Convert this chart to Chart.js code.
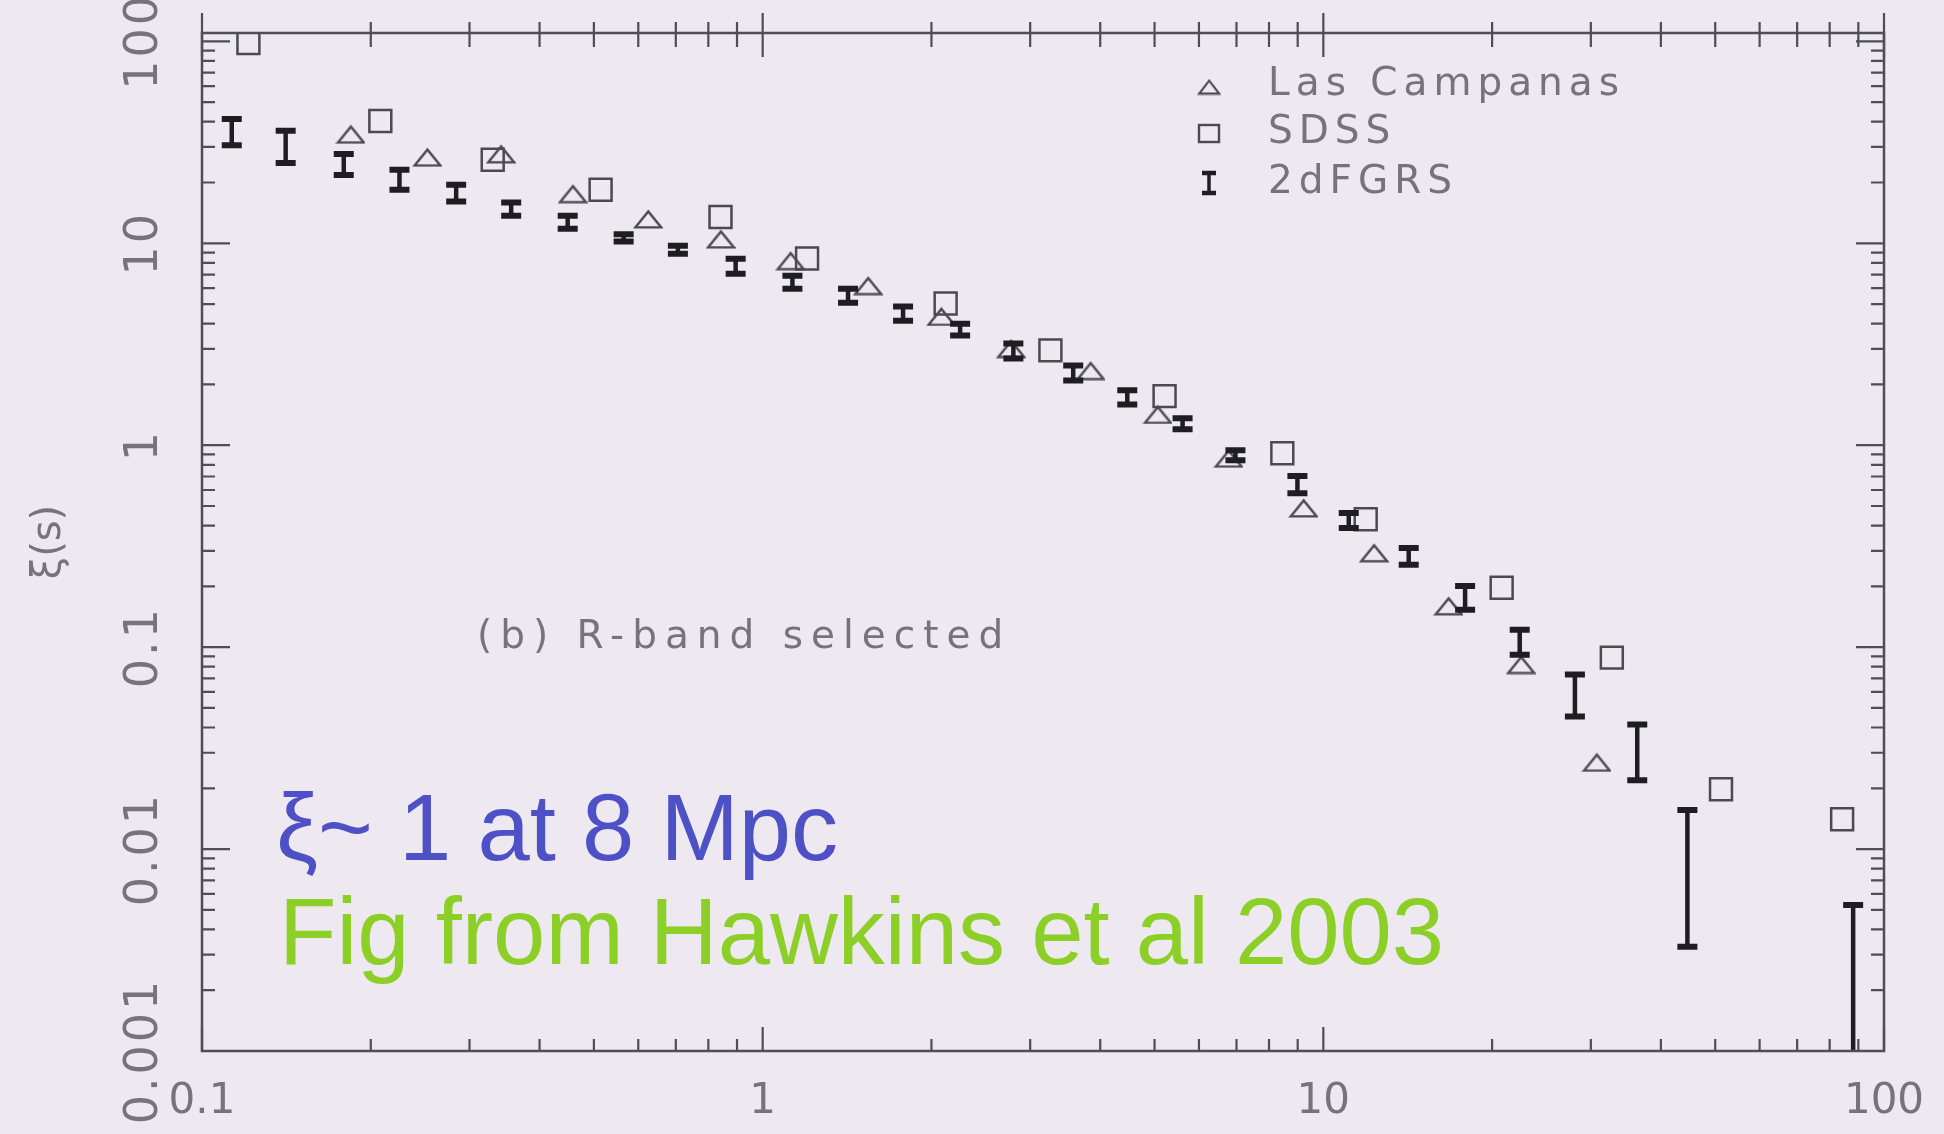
<!DOCTYPE html>
<html>
<head>
<meta charset="utf-8">
<title>xi(s) - Hawkins et al 2003</title>
<script src="https://cdn.jsdelivr.net/npm/chart.js@4.4.1/dist/chart.umd.min.js"></script>
<style>
  html, body { margin: 0; padding: 0; background: #eee8f1; }
  canvas { display: block; }
</style>
</head>
<body>
<canvas id="xiChart" width="1944" height="1134"></canvas>
<script>
// separation s (x) and correlation xi(s) (y)

// 2dFGRS: point plus error bar ends
const twodfX  = [0.113, 0.141, 0.179, 0.225, 0.284, 0.356, 0.449, 0.565, 0.706, 0.895, 1.13, 1.42, 1.78, 2.25, 2.80, 3.58, 4.47, 5.61, 6.97, 8.99, 11.1, 14.2, 17.9, 22.4, 28.1, 36.3, 44.6, 88.1];
const twodfY  = [35.5, 30.0, 24.7, 20.6, 17.8, 14.8, 12.8, 10.6, 9.29, 7.74, 6.45, 5.50, 4.48, 3.70, 2.95, 2.27, 1.75, 1.28, 0.903, 0.635, 0.431, 0.283, 0.176, 0.106, 0.0576, 0.0301, 0.00715, 0.0016];
const twodfHi = [41.2, 36.1, 27.7, 23.1, 19.5, 15.9, 13.7, 11.1, 9.72, 8.38, 6.91, 5.96, 4.86, 4.00, 3.19, 2.48, 1.87, 1.36, 0.945, 0.703, 0.461, 0.310, 0.201, 0.122, 0.0731, 0.0414, 0.0156, 0.00529];
const twodfLo = [30.6, 25.0, 21.8, 18.4, 16.1, 13.7, 11.8, 10.2, 8.87, 7.07, 5.96, 5.08, 4.14, 3.49, 2.69, 2.09, 1.59, 1.20, 0.843, 0.579, 0.389, 0.256, 0.153, 0.0918, 0.0454, 0.0219, 0.00328, 0.0005];

// Las Campanas (triangles)
const lcX = [0.184, 0.252, 0.341, 0.458, 0.624, 0.841, 1.12, 1.54, 2.08, 2.77, 3.84, 5.06, 6.77, 9.21, 12.3, 16.7, 22.5, 30.7];
const lcY = [34.7, 26.7, 27.7, 17.6, 13.2, 10.5, 8.2, 6.17, 4.34, 3.01, 2.34, 1.42, 0.862, 0.489, 0.293, 0.160, 0.082, 0.0269];

// SDSS (squares)
const sdssX = [0.121, 0.208, 0.330, 0.514, 0.841, 1.20, 2.12, 3.26, 5.21, 8.45, 11.9, 20.8, 32.7, 51.2, 84.2];
const sdssY = [98, 40.3, 25.9, 18.4, 13.5, 8.4, 5.03, 2.95, 1.75, 0.913, 0.43, 0.197, 0.0887, 0.0198, 0.01406];

// axes
const xMajorTicks = [0.1, 1, 10, 100];
const xTickLabels = ['0.1', '1', '10', '100'];
const yMajorTicks = [0.001, 0.01, 0.1, 1, 10, 100];
const yTickLabels = ['0.001', '0.01', '0.1', '1', '10', '100'];
const minorSteps = [2, 3, 4, 5, 6, 7, 8, 9];

const seriesNames = ['Las Campanas', 'SDSS', '2dFGRS'];

const bgColor = '#eee8f1';
const axisColor = '#4e4e56';
const markColor = '#4a4a4f';
const barColor = '#1e1e22';
const labelColor = '#74747a';
const scanFont = '"DejaVu Sans", "Liberation Sans", sans-serif';

function buildLogTicks(majors, max) {
  const ticks = [];
  majors.forEach(m => {
    ticks.push({ value: m, major: true });
    minorSteps.forEach(s => {
      if (m * s <= max) ticks.push({ value: m * s, major: false });
    });
  });
  return ticks;
}

// flattened open triangle, like the scanned markers
function makeTriangle(w, h, lw) {
  const c = document.createElement('canvas');
  c.width = w + lw * 2;
  c.height = h + lw * 2;
  const g = c.getContext('2d');
  g.strokeStyle = markColor;
  g.lineWidth = lw;
  g.beginPath();
  g.moveTo(lw, lw + h);
  g.lineTo(lw + w / 2, lw);
  g.lineTo(lw + w, lw + h);
  g.closePath();
  g.stroke();
  return c;
}
const triMark = makeTriangle(26, 16, 2.4);
const triLegend = makeTriangle(20, 13, 2.2);

const bgPlugin = {
  id: 'bg',
  beforeDraw(chart) {
    const ctx = chart.ctx;
    ctx.save();
    ctx.fillStyle = bgColor;
    ctx.fillRect(0, 0, chart.width, chart.height);
    ctx.restore();
  }
};

// 2dFGRS error bars
const errorBars = {
  id: 'errorBars',
  afterDatasetsDraw(chart) {
    const { ctx, chartArea: a, scales: { x, y } } = chart;
    ctx.save();
    ctx.beginPath();
    ctx.rect(a.left, a.top, a.right - a.left, a.bottom - a.top);
    ctx.clip();
    ctx.strokeStyle = barColor;
    twodfX.forEach((v, i) => {
      const px = x.getPixelForValue(v);
      const top = y.getPixelForValue(twodfHi[i]);
      const bot = y.getPixelForValue(twodfLo[i]);
      ctx.lineWidth = 4.5;
      ctx.beginPath();
      ctx.moveTo(px, top);
      ctx.lineTo(px, bot);
      ctx.stroke();
      ctx.lineWidth = 6;
      ctx.beginPath();
      ctx.moveTo(px - 10, top);
      ctx.lineTo(px + 10, top);
      ctx.moveTo(px - 10, bot);
      ctx.lineTo(px + 10, bot);
      ctx.stroke();
    });
    ctx.restore();
  }
};

// box frame with inward ticks on all four sides, plus y labels
const frame = {
  id: 'frame',
  afterDatasetsDraw(chart) {
    const { ctx, chartArea: a, scales: { x, y } } = chart;
    ctx.save();
    ctx.strokeStyle = axisColor;
    ctx.lineWidth = 2.5;
    ctx.strokeRect(a.left, a.top, a.right - a.left, a.bottom - a.top);

    ctx.lineWidth = 2.2;
    ctx.beginPath();
    x.ticks.forEach(t => {
      const px = x.getPixelForValue(t.value);
      const len = t.major ? 24 : 12;
      ctx.moveTo(px, a.bottom);
      ctx.lineTo(px, a.bottom - len);
      ctx.moveTo(px, a.top - (t.major ? 20 : 11));
      ctx.lineTo(px, a.top + (t.major ? 24 : 14));
    });
    y.ticks.forEach(t => {
      const py = y.getPixelForValue(t.value);
      const len = t.major ? 28 : 13;
      ctx.moveTo(a.left, py);
      ctx.lineTo(a.left + len, py);
      ctx.moveTo(a.right, py);
      ctx.lineTo(a.right - len, py);
    });
    ctx.stroke();

    // rotated y tick labels
    ctx.fillStyle = labelColor;
    ctx.font = '46px ' + scanFont;
    ctx.letterSpacing = '3px';
    ctx.textAlign = 'center';
    ctx.textBaseline = 'middle';
    y.ticks.filter(t => t.major).forEach(t => {
      const i = yMajorTicks.indexOf(t.value);
      const py = y.getPixelForValue(t.value);
      ctx.save();
      ctx.translate(a.left - 57, py);
      ctx.rotate(-Math.PI / 2);
      ctx.fillText(yTickLabels[i], 0, 0);
      ctx.restore();
    });
    ctx.restore();
  }
};

// legend block, panel label and the slide notes
const notes = {
  id: 'notes',
  afterDraw(chart) {
    const { ctx, chartArea: a } = chart;
    ctx.save();
    const symX = a.left + 1007;
    const rows = [a.top + 52, a.top + 100, a.top + 150];

    ctx.drawImage(triLegend, symX - triLegend.width / 2, rows[0] - triLegend.height / 2 + 2);
    ctx.strokeStyle = markColor;
    ctx.lineWidth = 2.4;
    ctx.strokeRect(symX - 10, rows[1] - 8, 20, 17);
    ctx.strokeStyle = barColor;
    ctx.lineWidth = 3.5;
    ctx.beginPath();
    ctx.moveTo(symX, rows[2] - 10);
    ctx.lineTo(symX, rows[2] + 10);
    ctx.stroke();
    ctx.lineWidth = 4.5;
    ctx.beginPath();
    ctx.moveTo(symX - 7, rows[2] - 10);
    ctx.lineTo(symX + 7, rows[2] - 10);
    ctx.moveTo(symX - 7, rows[2] + 10);
    ctx.lineTo(symX + 7, rows[2] + 10);
    ctx.stroke();

    ctx.fillStyle = labelColor;
    ctx.font = '39px ' + scanFont;
    ctx.letterSpacing = '6px';
    ctx.textAlign = 'left';
    ctx.textBaseline = 'middle';
    seriesNames.forEach((name, i) => ctx.fillText(name, symX + 59, rows[i]));

    ctx.letterSpacing = '8px';
    ctx.fillText('(b) R-band selected', a.left + 275, a.top + 605);

    ctx.letterSpacing = '0px';
    ctx.textBaseline = 'alphabetic';
    ctx.font = '94px "Liberation Sans", Arial, sans-serif';
    ctx.fillStyle = '#4e50c6';
    ctx.fillText('\u03BE~ 1 at 8 Mpc', a.left + 74, a.top + 827);
    ctx.fillStyle = '#8ccf27';
    ctx.fillText('Fig from Hawkins et al 2003', a.left + 77, a.top + 931);
    ctx.restore();
  }
};

new Chart(document.getElementById('xiChart'), {
  type: 'scatter',
  data: {
    datasets: [
      {
        label: seriesNames[0],
        data: lcX.map((v, i) => ({ x: v, y: lcY[i] })),
        pointStyle: triMark,
        pointRadius: 14
      },
      {
        label: seriesNames[1],
        data: sdssX.map((v, i) => ({ x: v, y: sdssY[i] })),
        pointStyle: 'rect',
        pointRadius: 15.5,
        borderColor: markColor,
        borderWidth: 2.5,
        backgroundColor: 'rgba(0,0,0,0)'
      },
      {
        label: seriesNames[2],
        data: twodfX.map((v, i) => ({ x: v, y: twodfY[i] })),
        pointRadius: 0
      }
    ]
  },
  options: {
    responsive: false,
    animation: false,
    events: [],
    devicePixelRatio: 1,
    layout: { padding: { left: 20, right: 60, top: 33, bottom: 0 } },
    plugins: {
      legend: { display: false },
      tooltip: { enabled: false }
    },
    scales: {
      x: {
        type: 'logarithmic',
        min: 0.1,
        max: 100,
        grid: { display: false, drawTicks: false, tickLength: 0 },
        border: { display: false },
        afterBuildTicks: scale => { scale.ticks = buildLogTicks(xMajorTicks, 100); },
        afterFit: scale => {
          scale.height = 83;
          scale.paddingLeft = 0;
          scale.paddingRight = 0;
        },
        ticks: {
          autoSkip: false,
          maxRotation: 0,
          minRotation: 0,
          padding: 26,
          color: labelColor,
          font: { family: scanFont, size: 42 },
          callback: value => {
            const i = xMajorTicks.indexOf(value);
            return i >= 0 ? xTickLabels[i] : '';
          }
        }
      },
      y: {
        type: 'logarithmic',
        min: 0.001,
        max: 110,
        grid: { display: false, drawTicks: false, tickLength: 0 },
        border: { display: false },
        afterBuildTicks: scale => { scale.ticks = buildLogTicks(yMajorTicks, 110); },
        afterFit: scale => {
          scale.width = 182;
          scale.paddingTop = 0;
          scale.paddingBottom = 0;
        },
        ticks: { display: false },
        title: {
          display: true,
          text: '\u03BE(s)',
          color: labelColor,
          font: { family: scanFont, size: 40 },
          padding: { top: 6, bottom: 2 }
        }
      }
    }
  },
  plugins: [bgPlugin, errorBars, frame, notes]
});
</script>
</body>
</html>
